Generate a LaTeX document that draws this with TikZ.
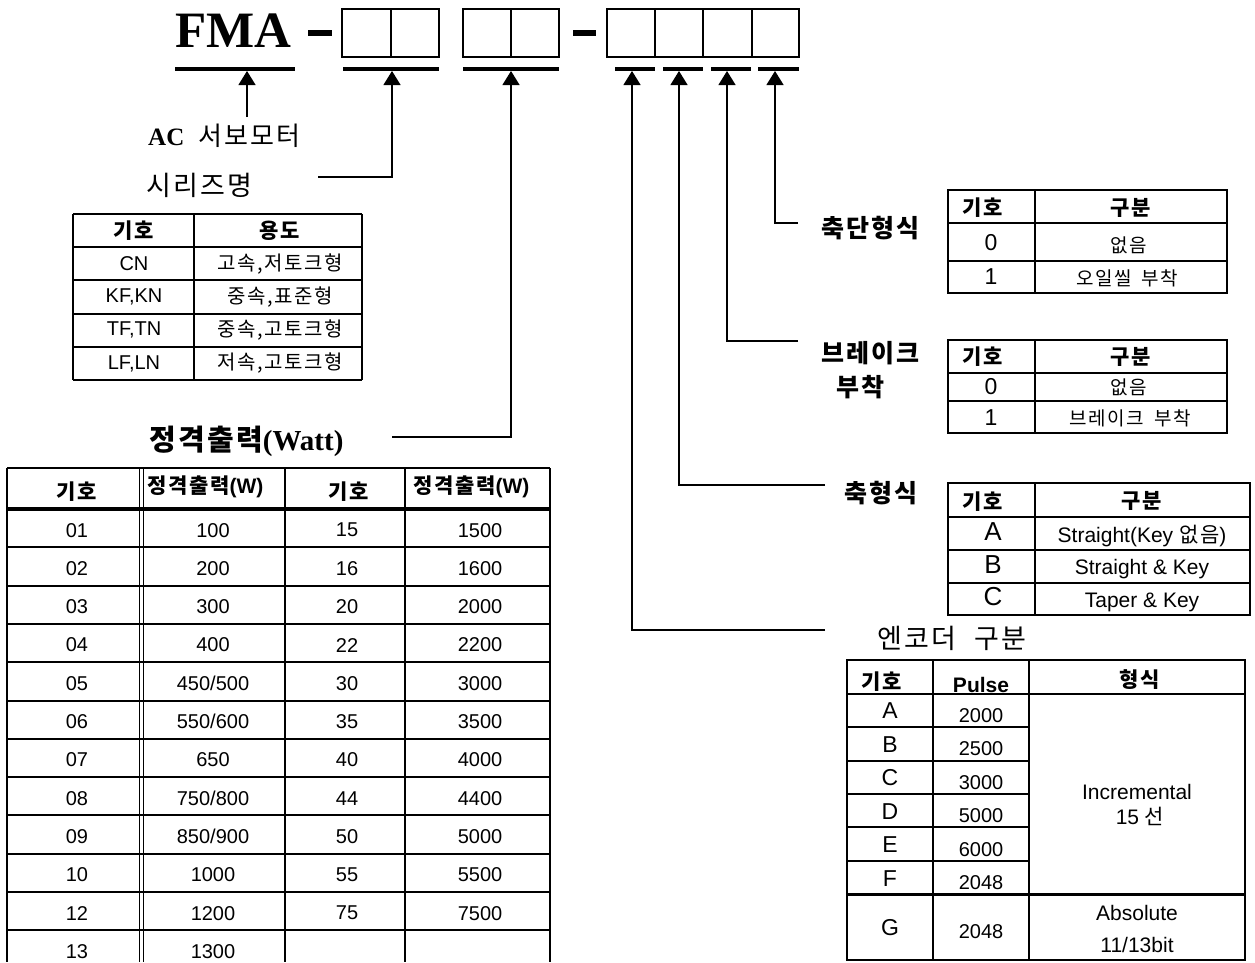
\documentclass[tikz,border=0pt]{standalone}
\usepackage{fontspec}
\setmainfont{Liberation Sans}
\newfontfamily\krfont{Noto Sans CJK KR}[LetterSpace=8]
\newfontfamily\tmsfont{Liberation Serif}
\usetikzlibrary{arrows.meta,positioning}

\newcommand{\fsz}[1]{\fontsize{#1}{#1}\selectfont}
\newcommand{\hangul}[1]{{\krfont #1}}

\tikzset{
  tline/.style={line width=2pt},
  uline/.style={line width=4pt},
  conn/.style={line width=1.3pt,-{Triangle[width=17pt,length=14pt]}},
  celltxt/.style={inner sep=0pt,font=\fsz{20}},
  headtxt/.style={inner sep=0pt,font=\fsz{21}\bfseries},
  bigtxt/.style={inner sep=0pt,font=\fsz{23}},
  tagtxt/.style={inner sep=0pt,anchor=west,font=\krfont\fsz{25}\bfseries},
}

\begin{document}
\begin{tikzpicture}[x=1pt,y=-1pt]
    \useasboundingbox (0,0) rectangle (1255,962);

    \node[anchor=base west,inner sep=0pt,font=\tmsfont\bfseries\fsz{51}] (fma) at (175,47) {FMA};
    \fill (308,30) rectangle (332,36);
    \fill (573,30) rectangle (596,36);
    \draw[tline] (342,9) rectangle (439,57) (391,9) -- (391,57);
    \draw[tline] (463,9) rectangle (559,57) (511,9) -- (511,57);
    \draw[tline] (607,9) rectangle (799,57);
    \foreach \x in {655,703,752} \draw[tline] (\x,9) -- (\x,57);
    \foreach \a/\b in {175/295,343/439,463/559,615/655,663/703,711/751,758/799}
        \draw[uline] (\a,69) -- (\b,69);

    \foreach \n/\x in {t0/247,t1/392,t2/511,t3/632,t4/679,t5/727,t6/775}
        \coordinate (\n) at (\x,71);
    \coordinate (e0) at (247,117);
    \coordinate (e1) at (318,177);
    \coordinate (e2) at (392,437);
    \coordinate (e3) at (825,630);
    \coordinate (e4) at (825,485);
    \coordinate (e5) at (798,341);
    \coordinate (e6) at (798,223);
    \draw[conn] (e0) -- (t0);
    \foreach \i in {1,...,6} \draw[conn] (e\i) -| (t\i);

    \node[anchor=base west,inner sep=0pt] (motor) at (148,145) {{\tmsfont\bfseries\fsz{25}AC}\hspace{14pt}{\krfont\fsz{26}서보모터}};
    \node[anchor=west,inner sep=0pt,font=\krfont\fsz{27}] (series) at (146,185) {시리즈명};
    \node[anchor=west,inner sep=0pt] (rated) at (149,441) {{\krfont\bfseries\fsz{29}정격출력}{\tmsfont\bfseries\fsz{29}(Watt)}};
    \node[tagtxt] (shaftend) at (821,228) {축단형식};
    \node[tagtxt] (brake1) at (821,353) {브레이크};
    \node[tagtxt] (brake2) at (836,387) {부착};
    \node[tagtxt] (shaft) at (844,493) {축형식};
    \node[anchor=west,inner sep=0pt,font=\krfont\fsz{27}] (encoder) at (877,638) {엔코더\hspace{18pt}구분};

    \foreach \y in {214,247.2,280.4,313.6,346.8,380} \draw[tline] (73,\y) -- (362,\y);
    \foreach \x in {73,194,362} \draw[tline] (\x,214) -- (\x,380);
    \node[headtxt] (s-h1) at (134,231) {\hangul{기호}};
    \node[headtxt] (s-h2) at (280,231) {\hangul{용도}};
    \foreach \a/\b [count=\i] in {CN/{고속,저토크형},{KF,KN}/{중속,표준형},{TF,TN}/{중속,고토크형},{LF,LN}/{저속,고토크형}} {
        \node[celltxt] (s-\i-1) at (134,230.6+33.2*\i) {\a};
        \node[celltxt,font=\krfont\fsz{20}] (s-\i-2) at (280,230.6+33.2*\i) {\b};
    }

    \draw[line width=2.7pt] (7,468) -- (550,468);
    \draw[line width=3.5pt] (7,509) -- (550,509);
    \foreach \i in {1,...,11} \draw[tline] (7,509+38.3*\i) -- (550,509+38.3*\i);
    \foreach \x in {7,285,405,550} \draw[tline] (\x,468) -- (\x,962);
    \foreach \x in {139.3,143.3} \draw[line width=1.6pt] (\x,468) -- (\x,962);
    \node[headtxt] (p-h1) at (77,492) {\hangul{기호}};
    \node[headtxt,anchor=west] (p-h2) at (147,487) {\hangul{정격출력}(W)};
    \node[headtxt] (p-h3) at (349,492) {\hangul{기호}};
    \node[headtxt,anchor=west] (p-h4) at (413,487) {\hangul{정격출력}(W)};
    \foreach \a/\b/\c/\d [count=\i] in {01/100/15/1500,02/200/16/1600,03/300/20/2000,04/400/22/2200,05/450\slash500/30/3000,06/550\slash600/35/3500,07/650/40/4000,08/750\slash800/44/4400,09/850\slash900/50/5000,10/1000/55/5500,12/1200/75/7500} {
        \node[celltxt] (p-\i-1) at (77,491.85+38.3*\i) {\a};
        \node[celltxt] (p-\i-2) at (213,491.85+38.3*\i) {\b};
        \node[celltxt] (p-\i-3) at (347,491.85+38.3*\i) {\c};
        \node[celltxt] (p-\i-4) at (480,491.85+38.3*\i) {\d};
    }
    \node[celltxt] (p-12-1) at (77,951.5) {13};
    \node[celltxt] (p-12-2) at (213,951.5) {1300};

    \draw[tline] (948,190) rectangle (1227,293) (948,223) -- (1227,223) (948,261) -- (1227,261) (1035,190) -- (1035,293);
    \node[headtxt] (c-h1) at (983,208) {\hangul{기호}};
    \node[headtxt] (c-h2) at (1131,208) {\hangul{구분}};
    \node[bigtxt] (c-1-1) at (991,243) {0};
    \node[celltxt,font=\krfont\fsz{19}] (c-1-2) at (1129,245) {없음};
    \node[bigtxt] (c-2-1) at (991,277) {1};
    \node[celltxt,font=\krfont\fsz{19}] (c-2-2) at (1127,278) {오일씰\hspace{10pt}부착};

    \draw[tline] (948,340) rectangle (1227,433) (948,373) -- (1227,373) (948,401) -- (1227,401) (1035,340) -- (1035,433);
    \node[headtxt] (b-h1) at (983,357) {\hangul{기호}};
    \node[headtxt] (b-h2) at (1131,357) {\hangul{구분}};
    \node[bigtxt] (b-1-1) at (991,387) {0};
    \node[celltxt,font=\krfont\fsz{19}] (b-1-2) at (1129,387) {없음};
    \node[bigtxt] (b-2-1) at (991,418) {1};
    \node[celltxt,font=\krfont\fsz{19}] (b-2-2) at (1130,418) {브레이크\hspace{10pt}부착};

    \draw[tline] (948,483) rectangle (1250,615);
    \foreach \y in {517,550,583} \draw[tline] (948,\y) -- (1250,\y);
    \draw[tline] (1035,483) -- (1035,615);
    \node[headtxt] (k-h1) at (983,502) {\hangul{기호}};
    \node[headtxt] (k-h2) at (1142,501) {\hangul{구분}};
    \foreach \a/\b [count=\i] in {A/Straight(Key \hangul{없음}),B/Straight \& Key,C/Taper \& Key} {
        \node[inner sep=0pt,font=\fsz{26}] (k-\i-1) at (993,499.5+32.5*\i) {\a};
        \node[inner sep=0pt,font=\fsz{21}] (k-\i-2) at (1142,503+33*\i) {\b};
    }

    \draw[tline] (847,660) rectangle (1245,960);
    \draw[tline] (847,694) -- (1245,694);
    \foreach \y in {727,761,794,827,861} \draw[tline] (847,\y) -- (1029,\y);
    \draw[line width=3pt] (847,894) -- (1245,894);
    \draw[tline] (933,660) -- (933,960) (1029,660) -- (1029,960);
    \node[headtxt] (n-h1) at (882,682) {\hangul{기호}};
    \node[headtxt] (n-h2) at (981,685) {Pulse};
    \node[headtxt] (n-h3) at (1140,680) {\hangul{형식}};
    \foreach \a/\b [count=\i] in {A/2000,B/2500,C/3000,D/5000,E/6000,F/2048} {
        \node[bigtxt] (n-\i-1) at (890,677.5+33.5*\i) {\a};
        \node[celltxt] (n-\i-2) at (981,682+33.5*\i) {\b};
    }
    \node[inner sep=0pt,font=\fsz{21}] (n-inc1) at (1137,792) {Incremental};
    \node[inner sep=0pt,font=\fsz{21}] (n-inc2) at (1140,816) {15 \hangul{선}};
    \node[bigtxt] (n-7-1) at (890,928) {G};
    \node[celltxt] (n-7-2) at (981,932) {2048};
    \node[inner sep=0pt,font=\fsz{21}] (n-abs1) at (1137,913) {Absolute};
    \node[inner sep=0pt,font=\fsz{21}] (n-abs2) at (1137,945) {11/13bit};
\end{tikzpicture}
\end{document}
